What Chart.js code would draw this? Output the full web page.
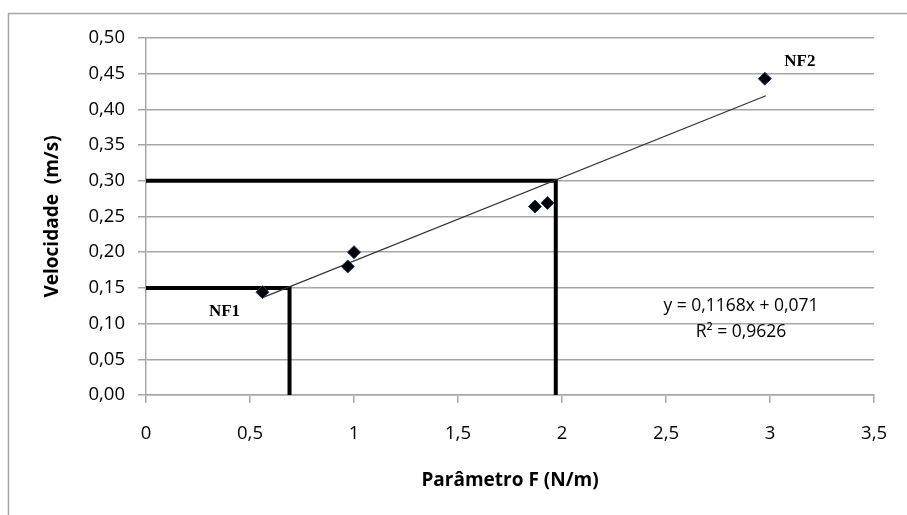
<!DOCTYPE html>
<html>
<head>
<meta charset="utf-8">
<script src="https://cdn.jsdelivr.net/npm/chart.js@4"></script>
<style>
  html, body { margin: 0; padding: 0; background: #fff; }
  #wrap { width: 907px; height: 515px; }
</style>
</head>
<body>
<div id="wrap"><canvas id="velChart" width="907" height="515"></canvas></div>
<script>
// measured points (Parametro F vs Velocidade)
const fVals = [0.56, 0.97, 1.00, 1.87, 1.93, 2.975];
const vVals = [0.144, 0.180, 0.200, 0.264, 0.269, 0.443];
const pointNames = ['NF1', '', '', '', '', 'NF2'];

// linear trendline shown on the chart
const trendSlope = 0.1168;
const trendIntercept = 0.071;
const trendRange = [0.56, 2.98];

// thick reading guides
const guideLowX = [0, 0.69, 0.69];
const guideLowY = [0.15, 0.15, 0];
const guideHighX = [0, 1.97, 1.97];
const guideHighY = [0.30, 0.30, 0];

const eqLines = ['y = 0,1168x + 0,071', 'R² = 0,9626'];

const xTicks = [0, 0.5, 1, 1.5, 2, 2.5, 3, 3.5];
const yTicks = [0, 0.05, 0.10, 0.15, 0.20, 0.25, 0.30, 0.35, 0.40, 0.45, 0.50];

const toPts = (xs, ys) => xs.map((x, i) => ({ x: x, y: ys[i] }));
const trendPts = trendRange.map(x => ({ x: x, y: trendSlope * x + trendIntercept }));

const extras = {
    id: 'extras',
    beforeDraw(chart) {
        const ctx = chart.ctx;
        ctx.save();
        ctx.fillStyle = '#fff';
        ctx.fillRect(0, 0, chart.width, chart.height);
        ctx.strokeStyle = '#a6a6a6';
        ctx.lineWidth = 1.5;
        ctx.strokeRect(8.5, 13.5, 1200, 1200);
        ctx.restore();
    },
    afterDraw(chart) {
        const ctx = chart.ctx;
        const xs = chart.scales.x, ys = chart.scales.y;
        ctx.save();
        // point names
        ctx.font = 'bold 17px "Liberation Serif"';
        ctx.fillStyle = '#000';
        ctx.textAlign = 'center';
        ctx.textBaseline = 'middle';
        const px0 = xs.getPixelForValue(fVals[0]), py0 = ys.getPixelForValue(vVals[0]);
        ctx.fillText(pointNames[0], px0 - 38, py0 + 19);
        const px5 = xs.getPixelForValue(fVals[5]), py5 = ys.getPixelForValue(vVals[5]);
        ctx.fillText(pointNames[5], px5 + 35, py5 - 17);
        // equation
        ctx.font = '17.5px "Open Sans"';
        ctx.fillStyle = '#000';
        ctx.fillText(eqLines[0], 741, 306);
        ctx.fillText(eqLines[1], 741, 332);
        ctx.restore();
    }
};

const fmt = (v, d) => (d == null ? String(v) : v.toFixed(d)).replace('.', ',');

new Chart(document.getElementById('velChart').getContext('2d'), {
    type: 'scatter',
    data: {
        datasets: [
            {
                label: 'guia 0,15',
                data: toPts(guideLowX, guideLowY),
                showLine: true,
                borderColor: '#000',
                borderWidth: 4,
                pointRadius: 0,
                order: 3
            },
            {
                label: 'guia 0,30',
                data: toPts(guideHighX, guideHighY),
                showLine: true,
                borderColor: '#000',
                borderWidth: 4,
                pointRadius: 0,
                order: 3
            },
            {
                label: 'Linear',
                data: trendPts,
                showLine: true,
                borderColor: '#333',
                borderWidth: 1.2,
                pointRadius: 0,
                order: 2
            },
            {
                label: 'Velocidade',
                data: toPts(fVals, vVals),
                pointStyle: 'rectRot',
                pointRadius: 6.5,
                backgroundColor: '#000',
                borderColor: '#1f3a6b',
                borderWidth: 1,
                order: 1
            }
        ]
    },
    options: {
        responsive: false,
        animation: false,
        layout: { padding: { left: 8, top: 38, right: 22, bottom: 0 } },
        plugins: {
            legend: { display: false },
            tooltip: { enabled: false }
        },
        scales: {
            x: {
                type: 'linear',
                min: 0,
                max: 3.5,
                afterFit: s => { s.height = 120; },
                afterBuildTicks: s => { s.ticks = xTicks.map(v => ({ value: v })); },
                grid: { drawOnChartArea: false, drawTicks: true, tickLength: 8, color: '#a6a6a6', lineWidth: 1.5 },
                border: { color: '#a6a6a6', width: 1.5 },
                ticks: {
                    padding: 20,
                    color: '#000',
                    font: { family: 'Open Sans', size: 18.5 },
                    maxRotation: 0,
                    callback: v => fmt(v)
                },
                title: {
                    display: true,
                    text: 'Parâmetro F (N/m)',
                    color: '#000',
                    font: { family: 'Open Sans', size: 19, weight: 'bold' },
                    padding: { top: 0, bottom: 23 }
                }
            },
            y: {
                type: 'linear',
                min: 0,
                max: 0.5,
                afterFit: s => { s.width = 138; },
                afterBuildTicks: s => { s.ticks = yTicks.map(v => ({ value: v })); },
                grid: { drawOnChartArea: true, drawTicks: true, tickLength: 8, color: '#a6a6a6', lineWidth: 1.5 },
                border: { color: '#a6a6a6', width: 1.5 },
                ticks: {
                    padding: 13,
                    color: '#000',
                    font: { family: 'Open Sans', size: 18.5 },
                    callback: v => fmt(v, 2)
                },
                title: {
                    display: true,
                    text: 'Velocidade  (m/s)',
                    color: '#000',
                    font: { family: 'Open Sans', size: 19, weight: 'bold' },
                    padding: { top: 33, bottom: 0 }
                }
            }
        }
    },
    plugins: [extras]
});
</script>
</body>
</html>
